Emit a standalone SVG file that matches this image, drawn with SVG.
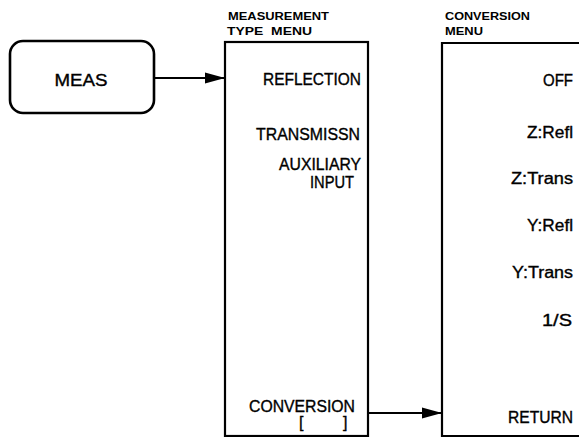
<svg xmlns="http://www.w3.org/2000/svg" width="579" height="437" viewBox="0 0 579 437">
<style>
.box{fill:none;stroke:#000;stroke-width:2.2}
.t{font-family:"Liberation Sans",Arial,sans-serif;font-size:16px;fill:#000;stroke:#000;stroke-width:0.35}
.h{font-family:"Liberation Sans",Arial,sans-serif;font-size:11px;font-weight:bold;fill:#000}
.e{text-anchor:end}
.c{fill:none;stroke:#000;stroke-width:2}
</style>
<defs>
<marker id="ah" markerUnits="userSpaceOnUse" markerWidth="22" markerHeight="14" refX="20" refY="7" orient="auto">
<path d="M0,1.5 L20,7 L0,12.5 Z" fill="#000"/>
</marker>
</defs>
<rect width="579" height="437" fill="#fff"/>
<g id="meas">
<rect x="10" y="41" width="144" height="72" rx="13" ry="13" fill="none" stroke="#000" stroke-width="2.6"/>
<text class="t" x="81" y="86" text-anchor="middle" font-size="17" textLength="53" lengthAdjust="spacingAndGlyphs">MEAS</text>
</g>
<g id="measurement-type-menu">
<text class="h" x="228" y="20" textLength="101" lengthAdjust="spacingAndGlyphs">MEASUREMENT</text>
<text class="h" x="227" y="35" textLength="85" lengthAdjust="spacingAndGlyphs" xml:space="preserve">TYPE  MENU</text>
<rect class="box" x="225" y="42" width="143" height="394"/>
<text class="t e" x="361" y="85" textLength="98" lengthAdjust="spacingAndGlyphs">REFLECTION</text>
<text class="t e" x="360" y="140" textLength="104" lengthAdjust="spacingAndGlyphs">TRANSMISSN</text>
<text class="t e" x="361" y="170" textLength="82" lengthAdjust="spacingAndGlyphs">AUXILIARY</text>
<text class="t e" x="354" y="188" textLength="44" lengthAdjust="spacingAndGlyphs">INPUT</text>
<text class="t e" x="355" y="412" textLength="106" lengthAdjust="spacingAndGlyphs">CONVERSION</text>
<text class="t" x="299" y="428" font-size="13">[</text>
<text class="t" x="343" y="428" font-size="13">]</text>
</g>
<g id="conversion-menu">
<text class="h" x="445" y="20" textLength="85" lengthAdjust="spacingAndGlyphs">CONVERSION</text>
<text class="h" x="445" y="35" textLength="38" lengthAdjust="spacingAndGlyphs">MENU</text>
<path class="box" d="M580,43 H442 V436 H580"/>
<text class="t e" x="573" y="86" textLength="30" lengthAdjust="spacingAndGlyphs">OFF</text>
<text class="t e" x="573" y="138" textLength="46" lengthAdjust="spacingAndGlyphs">Z:Refl</text>
<text class="t e" x="573" y="184" textLength="62" lengthAdjust="spacingAndGlyphs">Z:Trans</text>
<text class="t e" x="573" y="231" textLength="46" lengthAdjust="spacingAndGlyphs">Y:Refl</text>
<text class="t e" x="573" y="278" textLength="61" lengthAdjust="spacingAndGlyphs">Y:Trans</text>
<text class="t e" x="572" y="326" textLength="30" lengthAdjust="spacingAndGlyphs">1/S</text>
<text class="t e" x="573" y="423" textLength="65" lengthAdjust="spacingAndGlyphs">RETURN</text>
</g>
<g id="connectors">
<line class="c" x1="154" y1="78" x2="225" y2="78" marker-end="url(#ah)"/>
<line class="c" x1="368" y1="413" x2="442" y2="413" marker-end="url(#ah)"/>
</g>
</svg>
